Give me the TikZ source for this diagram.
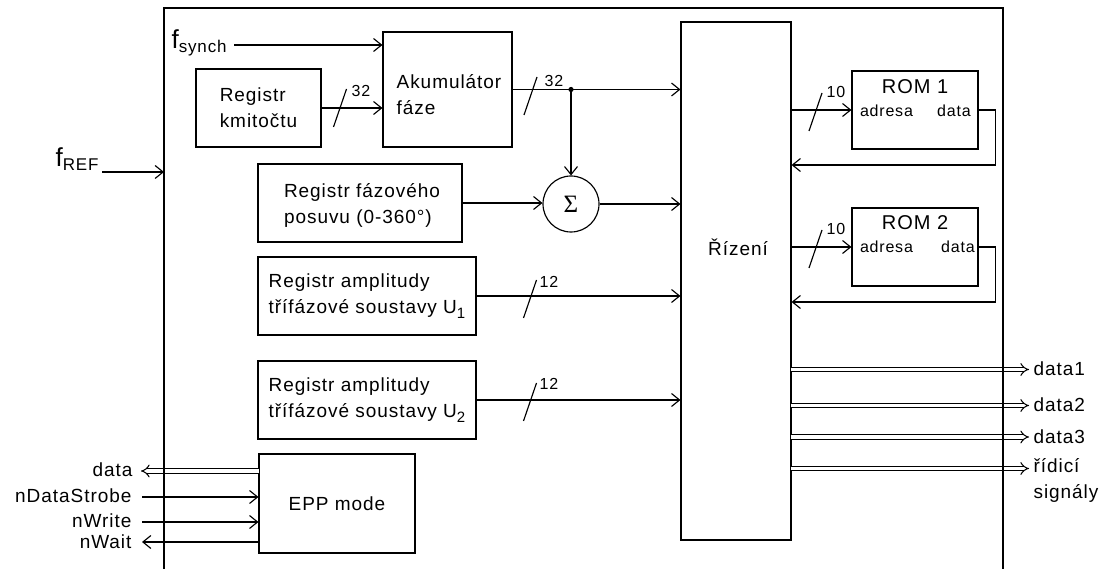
\documentclass[tikz,border=0pt]{standalone}
\usepackage{fontspec}
\setmainfont{Liberation Sans}[LetterSpace=5]
\newfontfamily\seriffont{Liberation Serif}
\usetikzlibrary{arrows.meta}
\newcommand\subtxt[3]{\raisebox{-#1}{\fontsize{#2}{#2}\selectfont #3}}
\begin{document}
\begin{tikzpicture}[x=1pt,y=-1pt,line width=1.15pt,
  box/.style={draw,rectangle,inner sep=0pt,align=left,font=\fontsize{19}{26}\selectfont},
  txt/.style={inner sep=0pt,font=\fontsize{19}{26}\selectfont},
  small/.style={inner sep=0pt,font=\fontsize{16}{18}\selectfont},
  arr/.style={-{Straight Barb[length=8pt,width=13pt]}},
  bus/.style={double,double distance=3.4pt,line width=1.05pt},
  slashline/.style={line width=1.15pt}]
\useasboundingbox (0,0) rectangle (1106,569);
% boxes
\node[box,minimum width=125pt,minimum height=78pt] (kmit) at (258.5,108) {Registr\\kmitočtu};
\node[box,minimum width=129pt,minimum height=115pt] (akum) at (447.5,89.5) {};
\node[txt,align=left] (akumt) at (449,95) {Akumulátor\\fáze};
\node[box,minimum width=204pt,minimum height=78pt] (faz) at (360,203) {};
\node[txt,align=left] (fazt) at (362,205) {Registr fázového\\posuvu (0-360°)};
\node[box,minimum width=218pt,minimum height=78pt] (u1) at (367,296) {Registr amplitudy\\třífázové soustavy U\subtxt{5pt}{15}{1}};
\node[box,minimum width=218pt,minimum height=78pt] (u2) at (367,400) {Registr amplitudy\\třífázové soustavy U\subtxt{5pt}{15}{2}};
\node[box,minimum width=156pt,minimum height=99pt] (epp) at (337,503.5) {EPP mode};
\node[box,minimum width=110pt,minimum height=518pt] (riz) at (736,281) {};
\node[txt] (riztxt) at (738,247) {Řízení};
\node[draw,circle,minimum size=56pt,inner sep=0pt] (sum) at (571,204) {\fontsize{25}{25}\seriffont Σ};
\node[draw,rectangle,minimum width=126pt,minimum height=78pt] (rom1) at (915,110) {};
\node[draw,rectangle,minimum width=126pt,minimum height=78pt] (rom2) at (915,247) {};
\node[inner sep=0pt,font=\fontsize{20}{20}\selectfont] (rom1t) at (915,87) {ROM 1};
\node[inner sep=0pt,font=\fontsize{20}{20}\selectfont] (rom2t) at (915,223) {ROM 2};
\node[small] (ad1) at (886.5,111) {adresa};
\node[small] (da1) at (954,111) {data};
\node[small] (ad2) at (886.5,247) {adresa};
\node[small] (da2) at (958,247) {data};
% external labels
\node[anchor=base west,inner sep=0pt] (fs) at (171,49) {{\fontsize{26}{26}\selectfont f}\subtxt{4pt}{17}{synch}};
\coordinate (fsout) at (234,45);
\node[anchor=base west,inner sep=0pt] (fref) at (55,167) {{\fontsize{26}{26}\selectfont f}\subtxt{4pt}{17}{REF}};
\coordinate (frefout) at (102,172);
\coordinate (OL) at (164,8);
\coordinate (OR) at (1003,8);
% connectors
\draw[arr] (fsout) -- (fsout -| akum.west);
\draw[arr] (frefout) -- (frefout -| OL);
\draw[arr] (kmit.east) -- (kmit.east -| akum.west);
\draw[arr] (akum.east) -- (akum.east -| riz.west);
\coordinate (dot) at (akum.east -| sum.north);
\fill (dot) circle (2.6pt);
\draw[arr] (dot) -- (sum.north);
\draw[arr] (faz.east) -- (faz.east -| sum.west);
\draw[arr] (sum.east) -- (sum.east -| riz.west);
\draw[arr] (u1.east) -- (u1.east -| riz.west);
\draw[arr] (u2.east) -- (u2.east -| riz.west);
\draw[arr] (rom1.west -| riz.east) -- (rom1.west);
\draw[arr] (rom2.west -| riz.east) -- (rom2.west);
\coordinate (rb1) at ([yshift=-55pt]rom1.east);
\coordinate (rb2) at ([yshift=-55pt]rom2.east);
\draw[arr] (rom1.east) -- ++(17,0) |- (rb1 -| riz.east);
\draw[arr] (rom2.east) -- ++(17,0) |- (rb2 -| riz.east);
% bus marks
\foreach \cx/\cy/\lx/\ly/\t [count=\i] in {340/108/361/91/32, 530.5/96/554/81/32, 815.5/112/836/92/10, 815.5/249/836/229/10, 530/299/549/282/12, 530/402/549/384/12}{
  \draw[slashline] ([shift={(6.5,-19)}]\cx,\cy) -- ++(-13,38);
  \node[small] (bm\i) at (\lx,\ly) {\t};
}
% output buses
\coordinate (e1) at (1029,369.5);
\coordinate (e2) at (1029,405.5);
\coordinate (e3) at (1029,437);
\coordinate (e4) at (1029,468.5);
\foreach \e in {e1,e2,e3,e4}{
  \draw[bus,-Implies] ([xshift=-0.6pt]riz.east |- \e) -- (\e);
}
\node[txt,anchor=west] (o1) at (1033,369) {data1};
\node[txt,anchor=west] (o2) at (1033,405) {data2};
\node[txt,anchor=west] (o3) at (1033,437) {data3};
\node[txt,anchor=north west,align=left] (o4) at (1033,458) {řídicí\\signály};
% EPP side
\coordinate (dl) at (141,471);
\coordinate (ndsc) at (142,497);
\coordinate (nwc) at (142,522);
\coordinate (nwt) at (142,542);
\draw[bus,-Implies] ([xshift=0.6pt]epp.west |- dl) -- (dl);
\draw[arr] (ndsc) -- (ndsc -| epp.west);
\draw[arr] (nwc) -- (nwc -| epp.west);
\draw[arr] (nwt -| epp.west) -- (nwt);
\node[txt,anchor=east] (ldata) at (133,470) {data};
\node[txt,anchor=east] (lnds) at (132,496) {nDataStrobe};
\node[txt,anchor=east] (lnw) at (132,521) {nWrite};
\node[txt,anchor=east] (lnwt) at (132,542) {nWait};
% outer frame
\draw (OL |- 0,575) -- (OL) -- (OR) -- (OR |- 0,575);
\end{tikzpicture}
\end{document}
